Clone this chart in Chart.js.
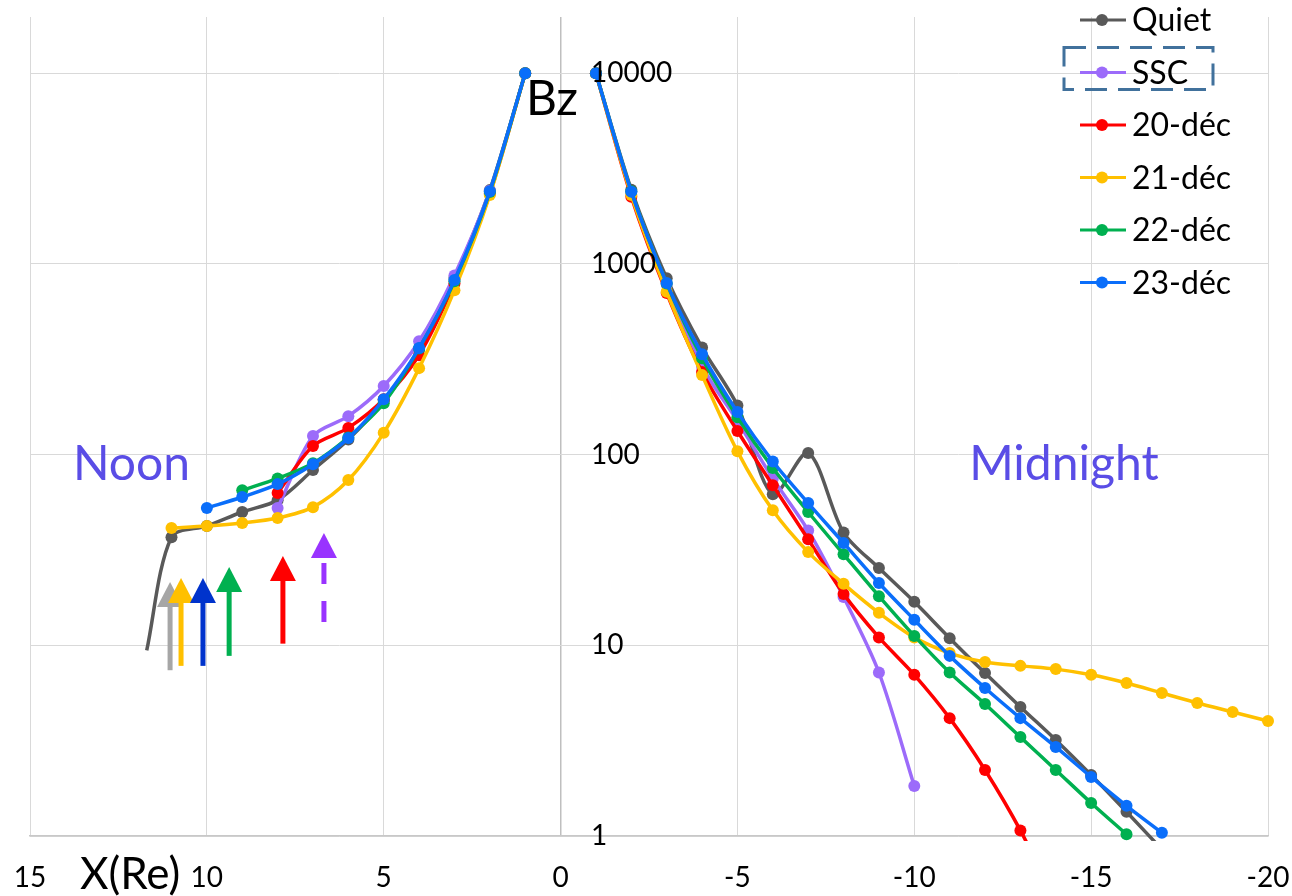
<!DOCTYPE html>
<html><head><meta charset="utf-8">
<script src="https://cdn.jsdelivr.net/npm/chart.js@4.4.1/dist/chart.umd.min.js"></script>
<style>html,body{margin:0;padding:0;background:#fff}canvas{display:block}</style>
</head><body>
<canvas id="c" width="1292" height="896"></canvas>
<script>
// ---------- data ----------
const seriesNames  = ['Quiet', 'SSC', '20-déc', '21-déc', '22-déc', '23-déc'];
const seriesColors = ['#595959', '#9C6BFA', '#FF0000', '#FFC000', '#00B050', '#0A6EFA'];

const xNoon     = [11, 10, 9, 8, 7, 6, 5, 4, 3, 2, 1];
const xMidnight = [-1, -2, -3, -4, -5, -6, -7, -8, -9, -10, -11, -12, -13, -14, -15, -16, -17, -18, -19, -20];

const quietNoon     = [36.9, 42.2, 50, 57.7, 83, 120, 192, 355, 842, 2436, 10000];
const quietMidnight = [10000, 2450, 840, 364, 181, 62, 102, 39, 25.4, 16.9, 10.9, 7.15, 4.75, 3.19, 2.09, 1.34, 0.85];
const quietEdgeX = 11.7;
const quietEdgeValue = 9.4;

const sscNoon     = [null, null, null, 52.4, 125, 159, 229, 393, 870, 2420, 10000];
const sscMidnight = [10000, 2380, 780, 290, 150, 75, 40, 17.9, 7.2, 1.83];

const dec20Noon     = [null, null, null, 62.9, 111, 138, 195, 332, 790, 2330, 10000];
const dec20Midnight = [10000, 2250, 703, 271, 133, 69, 36, 18.6, 11.0, 7.0, 4.15, 2.22, 1.07, 0.45];

const dec21Noon     = [41.2, 42.2, 43.8, 46.5, 53, 73.5, 130, 284, 728, 2300, 10000];
const dec21Midnight = [10000, 2300, 715, 261, 104, 51, 30.8, 21, 14.8, 11.0, 9.1, 8.17, 7.8, 7.5, 7.0, 6.34, 5.62, 4.98, 4.47, 4.01];

const dec22Noon     = [null, null, 65, 75, 90, 123, 186, 360, 810, 2380, 10000];
const dec22Midnight = [10000, 2400, 790, 320, 157, 85, 50, 30, 18.1, 11.2, 7.2, 4.92, 3.3, 2.22, 1.49, 1.02];

const dec23Noon     = [null, 52.4, 59.9, 70, 89, 122, 195, 362, 822, 2406, 10000];
const dec23Midnight = [10000, 2390, 793, 336, 167, 92, 55.7, 34.4, 21.2, 13.6, 8.8, 5.97, 4.15, 2.93, 2.04, 1.44, 1.04];

const yTickValues = [1, 10, 100, 1000, 10000];
const yAxisMax = 19700;
const yLabelAtX = -0.86;

// arrows (annotations)
const arrowX      = [11.04, 10.73, 10.11, 9.37, 7.85, 6.69];
const arrowTop    = [21.5, 22.5, 22.5, 25.7, 29.4, 38.8];
const arrowBottom = [7.4, 7.8, 7.8, 8.8, 10.2, 13.2];
const arrowColors = ['#A6A6A6', '#FFC000', '#0033CC', '#00B050', '#FF0000', '#9933FF'];
const arrowDashed = [false, false, false, false, false, true];

// text annotations
const textNotes = [
  {text: 'Noon',     x: 12.13, y: 73.6, color: '#5A4DE6', font: '48px Lato'},
  {text: 'Midnight', x: -14.23, y: 73.6, color: '#5A4DE6', font: '48px Lato'},
  {text: 'Bz',       x: 0.24,  y: 6040, color: '#000000', font: '48px Lato'}
];

// ---------- build datasets ----------
function buildPoints(noon, night) {
  const pts = [];
  noon.forEach((v, i) => pts.push({x: xNoon[i], y: v}));
  pts.push({x: 0, y: null});
  night.forEach((v, i) => pts.push({x: xMidnight[i], y: v}));
  return pts;
}
const seriesData = [
  [{x: quietEdgeX, y: quietEdgeValue}].concat(buildPoints(quietNoon, quietMidnight)),
  buildPoints(sscNoon, sscMidnight),
  buildPoints(dec20Noon, dec20Midnight),
  buildPoints(dec21Noon, dec21Midnight),
  buildPoints(dec22Noon, dec22Midnight),
  buildPoints(dec23Noon, dec23Midnight)
];

const datasets = seriesNames.map((name, i) => ({
  label: name,
  data: seriesData[i],
  borderColor: seriesColors[i],
  backgroundColor: seriesColors[i],
  pointBackgroundColor: seriesColors[i],
  pointBorderColor: seriesColors[i],
  pointBorderWidth: 0,
  pointRadius: (ctx) => (ctx.raw && ctx.raw.x === quietEdgeX) ? 0 : 6,
  borderWidth: 3.5,
  tension: 0.3,
  spanGaps: false,
  fill: false,
  order: seriesNames.length - i,
  clip: {left: 20, right: 20, top: 20, bottom: 5}
}));

// ---------- plugins ----------
const overlayPlugin = {
  id: 'overlay',
  afterDatasetsDraw(chart) {
    const {ctx, chartArea} = chart;
    const xs = chart.scales.x, ys = chart.scales.y;
    ctx.save();

    // y tick labels next to the zero line
    ctx.font = '28px Lato';
    ctx.fillStyle = '#000';
    ctx.textAlign = 'left';
    ctx.textBaseline = 'middle';
    const lx = xs.getPixelForValue(yLabelAtX);
    ys.ticks.forEach(t => ctx.fillText(String(t.value), lx, ys.getPixelForValue(t.value)));

    // arrows
    arrowX.forEach((ax, i) => {
      const px = xs.getPixelForValue(ax);
      const top = ys.getPixelForValue(arrowTop[i]);
      const bot = ys.getPixelForValue(arrowBottom[i]);
      const headH = 25, headW = 13;
      ctx.fillStyle = arrowColors[i];
      ctx.strokeStyle = arrowColors[i];
      ctx.beginPath();
      ctx.moveTo(px, top);
      ctx.lineTo(px - headW, top + headH);
      ctx.lineTo(px + headW, top + headH);
      ctx.closePath();
      ctx.fill();
      ctx.lineWidth = 5;
      ctx.lineCap = 'butt';
      ctx.beginPath();
      if (arrowDashed[i]) {
        ctx.setLineDash([21, 17]);
        ctx.moveTo(px, top + headH + 5);
      } else {
        ctx.setLineDash([]);
        ctx.moveTo(px, top + headH - 1);
      }
      ctx.lineTo(px, bot);
      ctx.stroke();
      ctx.setLineDash([]);
    });

    // text notes
    textNotes.forEach(n => {
      ctx.font = n.font;
      ctx.fillStyle = n.color;
      ctx.textAlign = 'center';
      ctx.textBaseline = 'alphabetic';
      ctx.fillText(n.text, xs.getPixelForValue(n.x), ys.getPixelForValue(n.y));
    });

    // axis title X(Re)
    ctx.font = '44px Lato';
    ctx.fillStyle = '#000';
    ctx.textAlign = 'center';
    ctx.textBaseline = 'alphabetic';
    ctx.fillText('X(Re)', xs.getPixelForValue(12.17), chartArea.bottom + 53);

    // legend
    const rowH = 52.5;
    const baseY = chartArea.top + 3;
    const lineL = chartArea.right - 188, lineR = chartArea.right - 142, dotX = chartArea.right - 166, textX = chartArea.right - 136;
    ctx.font = '32px Lato';
    ctx.textAlign = 'left';
    ctx.textBaseline = 'middle';
    chart.data.datasets.forEach((ds, i) => {
      const yy = baseY + i * rowH;
      ctx.strokeStyle = ds.borderColor;
      ctx.lineWidth = 3;
      ctx.beginPath();
      ctx.moveTo(lineL, yy); ctx.lineTo(lineR, yy);
      ctx.stroke();
      ctx.fillStyle = ds.borderColor;
      ctx.beginPath();
      ctx.arc(dotX, yy, 6, 0, Math.PI * 2);
      ctx.fill();
      ctx.fillStyle = '#000';
      ctx.fillText(ds.label, textX, yy + 1);
    });
    // dashed selection box around the SSC entry
    const sy = baseY + rowH;
    ctx.strokeStyle = '#41719C';
    ctx.lineWidth = 3;
    ctx.setLineDash([22, 11]);
    ctx.strokeRect(lineL - 16, sy - 25, 149, 42);
    ctx.setLineDash([]);

    ctx.restore();
  }
};

// ---------- chart ----------
new Chart(document.getElementById('c'), {
  type: 'line',
  data: {datasets},
  options: {
    responsive: false,
    animation: false,
    layout: {autoPadding: false, padding: {left: 30, right: 24, top: 17, bottom: 0}},
    plugins: {legend: {display: false}, tooltip: {enabled: false}},
    scales: {
      x: {
        type: 'linear',
        min: -20, max: 15,
        reverse: true,
        afterFit: (s) => { s.height = 60; s.paddingLeft = 0; s.paddingRight = 0; },
        ticks: {stepSize: 5, color: '#000', font: {family: 'Lato', size: 28}, padding: 25, maxRotation: 0},
        grid: {
          color: (c) => (c.tick && c.tick.value === 0) ? '#BFBFBF' : '#D9D9D9',
          lineWidth: (c) => (c.tick && c.tick.value === 0) ? 1.5 : 1,
          drawTicks: false
        },
        border: {display: true, color: '#C8C8C8', width: 1.5}
      },
      y: {
        type: 'logarithmic',
        min: 1, max: yAxisMax,
        afterFit: (s) => { s.width = 0; s.paddingTop = 0; s.paddingBottom = 0; },
        afterBuildTicks: (s) => { s.ticks = yTickValues.map(v => ({value: v})); },
        ticks: {display: false},
        grid: {color: '#D9D9D9', lineWidth: 1, drawTicks: false},
        border: {display: false}
      }
    }
  },
  plugins: [overlayPlugin]
});
</script>
</body></html>
